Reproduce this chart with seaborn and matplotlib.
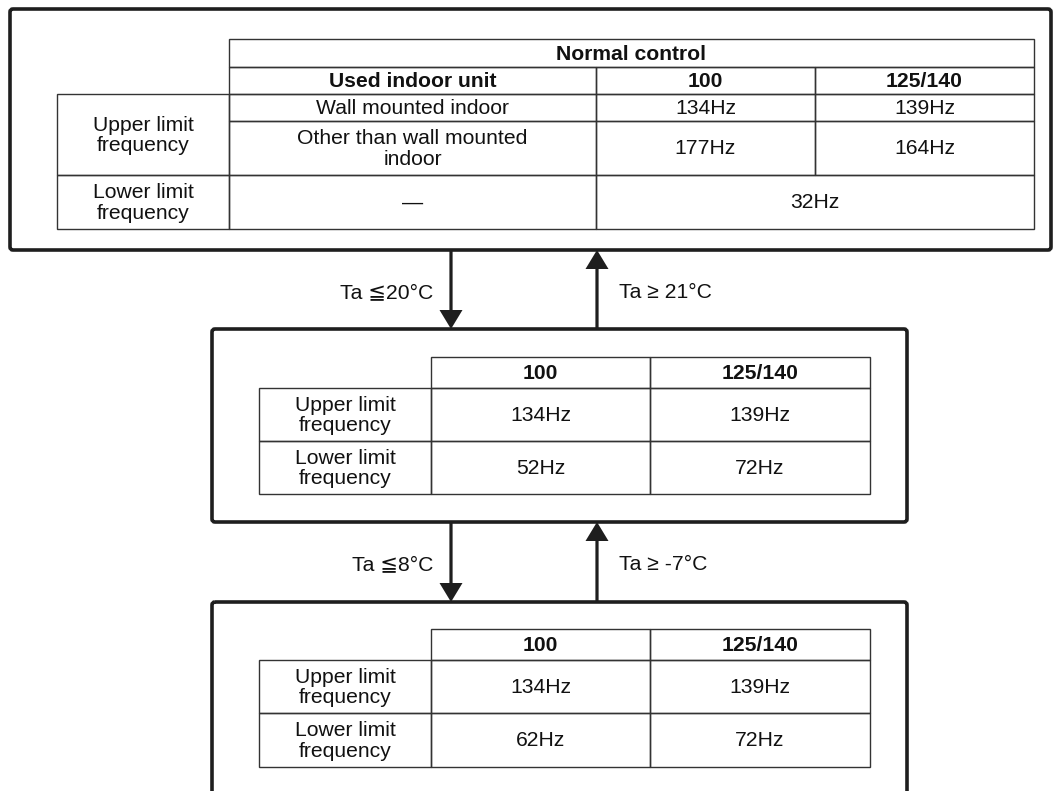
import matplotlib
matplotlib.use("Agg")
import matplotlib.pyplot as plt
import seaborn as sns
from matplotlib.patches import Rectangle, FancyBboxPatch, FancyArrow

# Podaci (tekst u tabelama)
models = ["100", "125/140"]
row_labels = ["Upper limit\nfrequency", "Lower limit\nfrequency"]
normal_title = "Normal control"
unit_header = "Used indoor unit"
indoor_units = ["Wall mounted indoor", "Other than wall mounted\nindoor"]
normal_upper = [["134Hz", "139Hz"], ["177Hz", "164Hz"]]
normal_lower_unit = "—"
normal_lower = "32Hz"
mid_upper = ["134Hz", "139Hz"]
mid_lower = ["52Hz", "72Hz"]
low_upper = ["134Hz", "139Hz"]
low_lower = ["62Hz", "72Hz"]
down_conditions = ["Ta ≦20°C", "Ta ≦8°C"]
up_conditions = ["Ta ≥ 21°C", "Ta ≥ -7°C"]

sns.set_theme(style="white")
plt.rcParams['font.family'] = ['Liberation Sans', 'DejaVu Sans']

fig = plt.figure(figsize=(10.55, 7.91), dpi=100)
ax = fig.add_axes([0, 0, 1, 1])
ax.set_xlim(0, 1055)
ax.set_ylim(791, 0)
ax.axis('off')

FS = 15.2
LINE = '#333333'
BOX = '#1e1e1e'


def cell(x0, x1, y0, y1, text, bold=False):
    ax.add_patch(Rectangle((x0, y0), x1 - x0, y1 - y0, fill=False,
                           edgecolor=LINE, lw=1.0))
    ax.text((x0 + x1) / 2, (y0 + y1) / 2 + 1, text, ha='center', va='center',
            fontsize=FS, fontweight='bold' if bold else 'normal',
            linespacing=1.1, color='#111111')


def box(x0, y0, x1, y1):
    ax.add_patch(FancyBboxPatch((x0, y0), x1 - x0, y1 - y0,
                                boxstyle="round,pad=0,rounding_size=3",
                                fill=False, edgecolor=BOX, lw=2.6))


def arrow(x, y_from, y_to):
    ax.add_patch(FancyArrow(x, y_from, 0, y_to - y_from, width=3.2,
                            head_width=23, head_length=19,
                            length_includes_head=True, color=BOX, lw=0))


# Gornji okvir - normalna kontrola
box(10, 9, 1051, 250)
tx = [229, 596, 815, 1034]
ty = [39, 67, 94, 121, 175, 229]
cell(tx[0], tx[3], ty[0], ty[1], normal_title, bold=True)
cell(tx[0], tx[1], ty[1], ty[2], unit_header, bold=True)
for i, m in enumerate(models):
    cell(tx[i + 1], tx[i + 2], ty[1], ty[2], m, bold=True)
for r in range(2):
    cell(tx[0], tx[1], ty[r + 2], ty[r + 3], indoor_units[r])
    for i in range(2):
        cell(tx[i + 1], tx[i + 2], ty[r + 2], ty[r + 3], normal_upper[r][i])
cell(tx[0], tx[1], ty[4], ty[5], normal_lower_unit)
cell(tx[1], tx[3], ty[4], ty[5], normal_lower)
cell(57, tx[0], ty[2], ty[4], row_labels[0])
cell(57, tx[0], ty[4], ty[5], row_labels[1])


def small_table(y_rows, upper, lower):
    mx = [431, 650, 870]
    for i, m in enumerate(models):
        cell(mx[i], mx[i + 1], y_rows[0], y_rows[1], m, bold=True)
    for r, vals in enumerate([upper, lower]):
        cell(259, mx[0], y_rows[r + 1], y_rows[r + 2], row_labels[r])
        for i in range(2):
            cell(mx[i], mx[i + 1], y_rows[r + 1], y_rows[r + 2], vals[i])


# Srednji okvir
box(212, 329, 907, 522)
small_table([357, 388, 441, 494], mid_upper, mid_lower)

# Donji okvir (odsecen na dnu slike)
box(212, 602, 907, 830)
small_table([629, 660, 713, 767], low_upper, low_lower)

# Strelice i uslovi prelaza
gaps = [(250, 329), (522, 602)]
for k, (ya, yb) in enumerate(gaps):
    arrow(451, ya, yb)
    arrow(597, yb, ya)
    yc = (ya + yb) / 2 + 3
    ax.text(433, yc, down_conditions[k], ha='right', va='center',
            fontsize=FS, color='#111111')
    ax.text(619, yc, up_conditions[k], ha='left', va='center',
            fontsize=FS, color='#111111')

fig.savefig('out.png', dpi=100)
